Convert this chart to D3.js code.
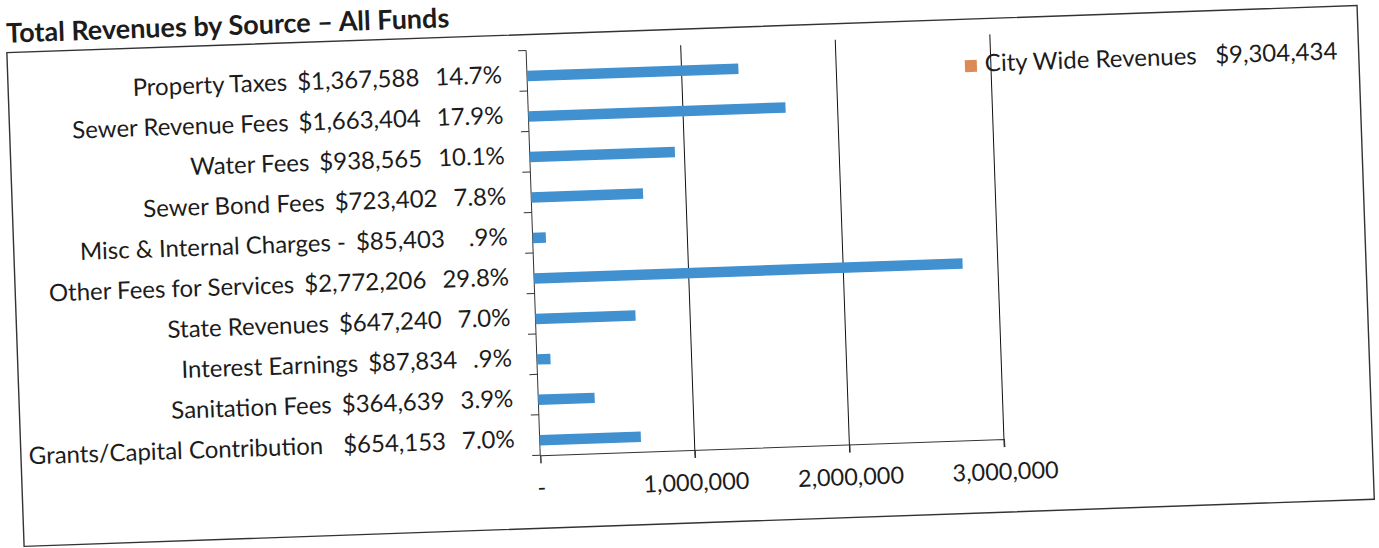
<!DOCTYPE html>
<html>
<head>
    <meta charset="utf-8">
    <title>Total Revenues by Source</title>
    <style>
        body { margin: 0; background: #fff; }
        svg text { font-family: Lato, "Open Sans", sans-serif; fill: #1c1c1c; white-space: pre; }
    </style>
</head>
<body>
<div id="chart"></div>
<script src="https://d3js.org/d3.v7.min.js"></script>
<script>
    // values as printed on the chart
    const categories = ["Property Taxes", "Sewer Revenue Fees", "Water Fees", "Sewer Bond Fees",
        "Misc & Internal Charges -", "Other Fees for Services", "State Revenues", "Interest Earnings",
        "Sanitation Fees", "Grants/Capital Contribution"];
    const values = [1367588, 1663404, 938565, 723402, 85403, 2772206, 647240, 87834, 364639, 654153];
    const shares = ["14.7%", "17.9%", "10.1%", "7.8%", ".9%", "29.8%", "7.0%", ".9%", "3.9%", "7.0%"];
    const xTicks = [0, 1000000, 2000000, 3000000];
    const seriesNames = ["City Wide Revenues", "Revenues"];   // first one is the (empty) legend series

    const W = 1379, H = 548;
    const plot = { left: 534, right: 998, top: 45, bottom: 450 };

    const svg = d3.select("#chart").append("svg")
        .attr("width", W).attr("height", H);

    // the scan is tilted a little, so everything goes into one rotated group
    const g = svg.append("g").attr("transform", `rotate(-2, ${W / 2}, ${H / 2})`);

    // frame
    g.append("rect")
        .attr("x", 15).attr("y", 29)
        .attr("width", 1366 - 15).attr("height", 523 - 29)
        .attr("fill", "none").attr("stroke", "#333").attr("stroke-width", 1.4);

    g.append("text")
        .attr("x", 15).attr("y", 19)
        .style("font-size", "27px").style("font-weight", "bold")
        .text("Total Revenues by Source \u2013 All Funds");

    const x = d3.scaleLinear().domain([0, 3000000]).range([plot.left, plot.right]);
    const y = d3.scaleBand().domain(categories).range([plot.top, plot.bottom]);
    const inner = d3.scaleBand().domain(seriesNames).range([0, y.step()]).paddingInner(0).paddingOuter(0.93);

    // gridlines
    g.append("g").selectAll("line")
        .data(xTicks.slice(1))
        .join("line")
        .attr("x1", d => x(d)).attr("x2", d => x(d))
        .attr("y1", plot.top).attr("y2", plot.bottom + 8)
        .attr("stroke", "#111").attr("stroke-width", 1);

    // x axis
    const xAxis = g.append("g")
        .attr("transform", `translate(0, ${plot.bottom})`)
        .call(d3.axisBottom(x).tickValues(xTicks).tickSize(8).tickPadding(16)
            .tickFormat(d => d === 0 ? "-" : d3.format(",")(d)));
    xAxis.select(".domain").attr("stroke", "#333");
    xAxis.selectAll(".tick line").attr("stroke", "#333");
    xAxis.selectAll("text").style("font-size", "23.5px").attr("fill", "#1c1c1c");

    // y axis with ticks between categories
    const yEdges = categories.map(c => y(c)).concat([plot.bottom]);
    g.append("line")
        .attr("x1", plot.left).attr("x2", plot.left)
        .attr("y1", plot.top).attr("y2", plot.bottom)
        .attr("stroke", "#333");
    g.append("g").selectAll("line")
        .data(yEdges)
        .join("line")
        .attr("x1", plot.left - 8).attr("x2", plot.left)
        .attr("y1", d => d).attr("y2", d => d)
        .attr("stroke", "#333");

    // bars
    g.append("g").selectAll("rect")
        .data(categories)
        .join("rect")
        .attr("x", x(0))
        .attr("y", c => y(c) + inner("Revenues"))
        .attr("width", (c, i) => x(values[i]) - x(0))
        .attr("height", inner.bandwidth())
        .attr("fill", "#4190cf");

    // category labels: name, amount, share
    const money = d => "$" + d3.format(",")(d);
    const labels = g.append("g").selectAll("text")
        .data(categories)
        .join("text")
        .attr("x", plot.left - 25)
        .attr("y", c => y(c) + y.step() / 2 + 3)
        .attr("dy", "0.35em")
        .attr("text-anchor", "end")
        .style("font-size", "24px");
    labels.append("tspan").text(c => c);
    labels.append("tspan").attr("dx", (c, i) => i === 9 ? 20 : 10).text((c, i) => money(values[i]));
    labels.append("tspan").attr("dx", (c, i) => categories[i].endsWith("-") ? 24 : 16).text((c, i) => shares[i]);

    // legend
    const legend = g.append("g").attr("transform", "translate(972, 70)");
    legend.append("rect").attr("width", 12).attr("height", 12).attr("fill", "#dc8a56");
    legend.append("text")
        .attr("x", 20).attr("y", 12)
        .style("font-size", "24px")
        .text(seriesNames[0] + "   " + money(d3.sum(values)));
</script>
</body>
</html>
